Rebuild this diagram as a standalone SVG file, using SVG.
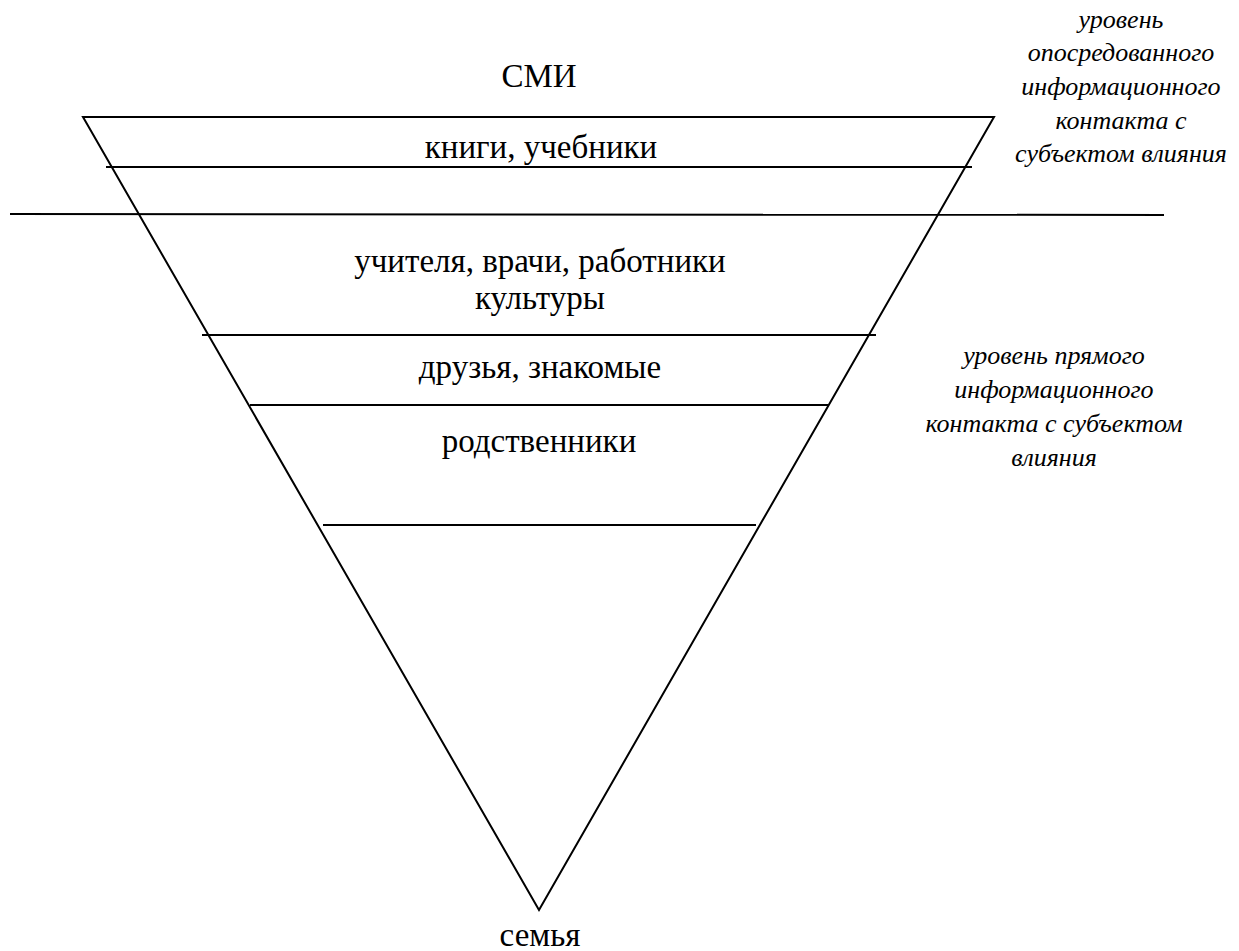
<svg xmlns="http://www.w3.org/2000/svg" width="1239" height="951" viewBox="0 0 1239 951">
<rect width="1239" height="951" fill="#fff"/>
<g id="connectors" stroke="#000" stroke-width="2" fill="none">
<polygon points="83,117 994,117 539,910"/>
<line x1="106" y1="167" x2="972" y2="167"/>
<line x1="10" y1="214" x2="1164" y2="215"/>
<line x1="202" y1="335" x2="876" y2="335"/>
<line x1="250" y1="405" x2="828" y2="405"/>
<line x1="323" y1="525" x2="756" y2="525"/>
</g>
<g font-family="Liberation Serif" font-size="33" text-anchor="middle" fill="#000">
<g id="smi"><text x="539" y="87">СМИ</text></g>
<g id="books"><text x="541" y="158">книги, учебники</text></g>
<g id="teachers"><text x="540" y="272">учителя, врачи, работники</text><text x="540" y="309">культуры</text></g>
<g id="friends"><text x="540" y="378">друзья, знакомые</text></g>
<g id="relatives"><text x="539" y="452">родственники</text></g>
<g id="family"><text x="540" y="946">семья</text></g>
</g>
<g font-family="Liberation Serif" font-size="26" font-style="italic" text-anchor="middle" fill="#000">
<g id="level-indirect">
<text x="1121" y="28">уровень</text>
<text x="1121" y="61">опосредованного</text>
<text x="1121" y="95">информационного</text>
<text x="1121" y="129">контакта с</text>
<text x="1121" y="162">субъектом влияния</text>
</g>
<g id="level-direct">
<text x="1054" y="364">уровень прямого</text>
<text x="1054" y="398">информационного</text>
<text x="1054" y="432">контакта с субъектом</text>
<text x="1054" y="466">влияния</text>
</g>
</g>
</svg>
